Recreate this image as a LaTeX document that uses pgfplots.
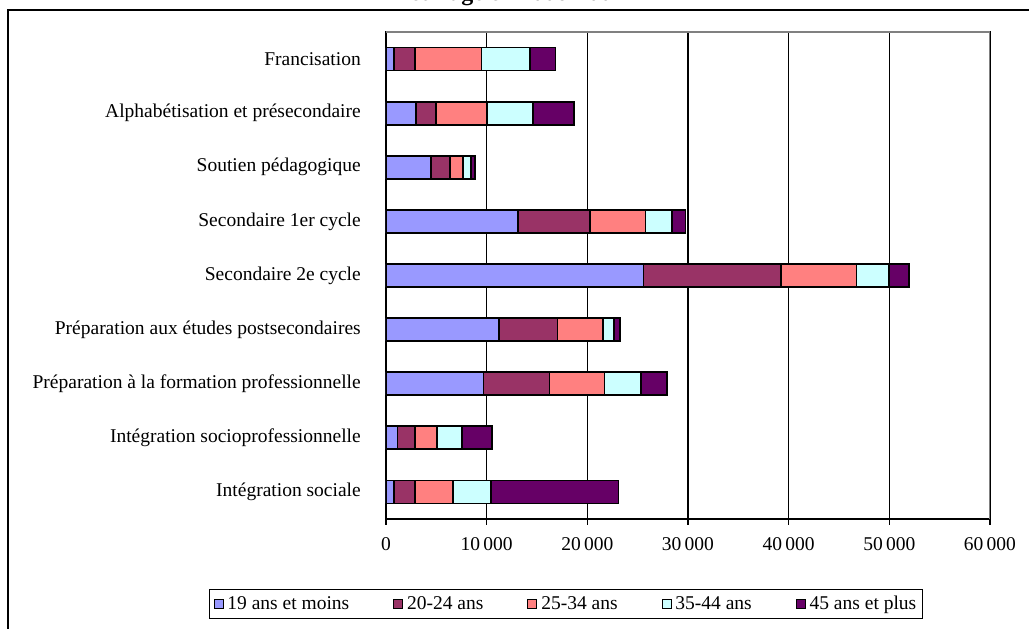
\documentclass[border=0pt]{standalone}
\usepackage{fontspec}
\setmainfont{Liberation Serif}
\usepackage{pgfplots}
\pgfplotsset{compat=1.18}
\definecolor{cA}{HTML}{9999FF}
\definecolor{cB}{HTML}{993366}
\definecolor{cC}{HTML}{FF8080}
\definecolor{cD}{HTML}{CCFFFF}
\definecolor{cE}{HTML}{660066}
\newcommand{\fs}{\fontsize{19.5}{23}\selectfont}
\begin{document}
\begin{tikzpicture}[x=1pt,y=1pt]
\useasboundingbox (0,0) rectangle (1029,629);
\clip (0,0) rectangle (1029,629);
\fill[white] (0,0) rectangle (1029,629);
\draw[line width=1.5pt, black] (8,-20) -- (8,619) -- (1060,619);
\node[anchor=base, font=\bfseries\fontsize{24}{28}\selectfont] at (517,628.5) {et l'âge en 2006-2007};
\begin{axis}[
  at={(386pt,110pt)}, anchor=south west,
  scale only axis, width=604pt, height=487pt,
  xbar stacked, bar width=23pt,
  every axis plot/.append style={draw=black, line width=1.7pt,
    legend image code/.code={\draw[##1, draw=black, line width=0.8pt] (0pt,-4.5pt) rectangle (9pt,4.5pt);}},
  xmin=0, xmax=60000, ymin=-0.5, ymax=8.5,
  scaled x ticks=false,
  xtick={0,10000,20000,30000,40000,50000,60000},
  xticklabels={0,10\,000,20\,000,30\,000,40\,000,50\,000,60\,000},
  minor xtick={10000,20000,30000,40000,50000},
  xminorgrids=true, minor tick length=0pt,
  minor grid style={black, line width=1.6pt},
  ytick={0,1,2,3,4,5,6,7,8},
  yticklabels={Intégration sociale, Intégration socioprofessionnelle, Préparation à la formation professionnelle, Préparation aux études postsecondaires, Secondaire 2e cycle, Secondaire 1er cycle, Soutien pédagogique, Alphabétisation et présecondaire, Francisation},
  extra y ticks={-0.5,0.5,1.5,2.5,3.5,4.5,5.5,6.5,7.5,8.5},
  extra y tick labels={},
  extra y tick style={major tick length=6pt, tick style={black, line width=1.5pt}},
  major tick length=6pt,
  tick align=outside, tick pos=left,
  ytick style={draw=none},
  xtick style={black, line width=1.5pt},
  axis line style={black, line width=1.7pt},
  tick label style={font=\fs},
  yticklabel style={inner sep=0pt, xshift=-19pt},
  xticklabel style={yshift=-9pt},
  legend columns=5,
  legend style={at={(0.298,-0.174)}, anchor=center, font=\fs, draw=black, line width=1.2pt,
    inner xsep=4pt, inner ysep=5pt,
    /tikz/every even column/.append style={column sep=42pt},
    /tikz/every odd column/.append style={column sep=2pt}},
  legend cell align=left,
]
\addplot[fill=cA] coordinates {(825,0) (1150,1) (9700,2) (11200,3) (25570,4) (13140,5) (4470,6) (2980,7) (825,8)};
\addplot[fill=cB] coordinates {(2025,0) (1710,1) (6530,2) (5850,3) (13655,4) (7150,5) (1855,6) (1985,7) (2025,8)};
\addplot[fill=cC] coordinates {(3800,0) (2175,1) (5490,2) (4490,3) (7515,4) (5500,5) (1325,6) (5035,7) (6650,8)};
\addplot[fill=cD] coordinates {(3810,0) (2535,1) (3630,2) (1140,3) (3210,4) (2640,5) (790,6) (4630,7) (4800,8)};
\addplot[fill=cE] coordinates {(12650,0) (2990,1) (2570,2) (540,3) (1990,4) (1330,5) (430,6) (4040,7) (2550,8)};
\legend{19 ans et moins, 20-24 ans, 25-34 ans, 35-44 ans, 45 ans et plus\hspace{40pt}}
\draw[gray, line width=1.5pt] (axis description cs:0,1) -- (axis description cs:1,1) -- (axis description cs:1,0);
\end{axis}
\end{tikzpicture}
\end{document}
